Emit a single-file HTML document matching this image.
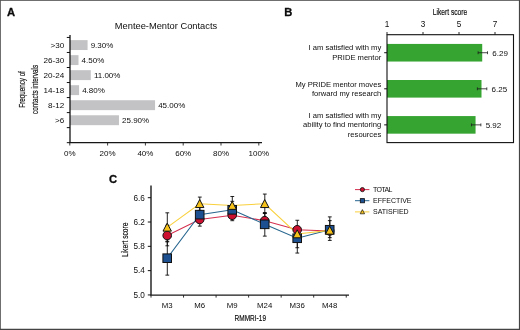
<!DOCTYPE html><html><head><meta charset="utf-8"><title>Figure</title><style>html,body{margin:0;padding:0;background:#fff;}body{width:520px;height:330px;overflow:hidden;font-family:"Liberation Sans",sans-serif;}svg{display:block;will-change:transform;}text{font-family:"Liberation Sans",sans-serif;fill:#0d0d0d;stroke:#0d0d0d;stroke-width:0;}</style></head><body>
<svg width="520" height="330" viewBox="0 0 520 330">
<rect x="0" y="0" width="520" height="330" fill="#fff"/>
<text x="7" y="16.4" font-size="11.2" font-weight="bold" fill="#000" style="stroke-width:0.3px">A</text>
<text x="166" y="29.2" font-size="9.3" text-anchor="middle">Mentee-Mentor Contacts</text>
<rect x="70.0" y="40.12" width="17.58" height="9.9" fill="#c3c3c5"/>
<text x="64.3" y="47.82" font-size="8.1" text-anchor="end">&gt;30</text>
<text x="90.68" y="47.77" font-size="8">9.30%</text>
<rect x="70.0" y="55.15" width="8.50" height="9.9" fill="#c3c3c5"/>
<text x="64.3" y="62.85" font-size="8.1" text-anchor="end">26-30</text>
<text x="81.60" y="62.80" font-size="8">4.50%</text>
<rect x="70.0" y="70.18" width="20.79" height="9.9" fill="#c3c3c5"/>
<text x="64.3" y="77.88" font-size="8.1" text-anchor="end">20-24</text>
<text x="93.89" y="77.83" font-size="8">11.00%</text>
<rect x="70.0" y="85.20" width="9.07" height="9.9" fill="#c3c3c5"/>
<text x="64.3" y="92.90" font-size="8.1" text-anchor="end">14-18</text>
<text x="82.17" y="92.85" font-size="8">4.80%</text>
<rect x="70.0" y="100.23" width="85.05" height="9.9" fill="#c3c3c5"/>
<text x="64.3" y="107.93" font-size="8.1" text-anchor="end">8-12</text>
<text x="158.15" y="107.88" font-size="8">45.00%</text>
<rect x="70.0" y="115.27" width="48.95" height="9.9" fill="#c3c3c5"/>
<text x="64.3" y="122.96" font-size="8.1" text-anchor="end">&gt;6</text>
<text x="122.05" y="122.91" font-size="8">25.90%</text>
<path d="M70.0 35 V142.7 H262" fill="none" stroke="#161616" stroke-width="1.3"/>
<path d="M66.8 37.45 H70.0" stroke="#111" stroke-width="1"/>
<path d="M66.8 52.48 H70.0" stroke="#111" stroke-width="1"/>
<path d="M66.8 67.51 H70.0" stroke="#111" stroke-width="1"/>
<path d="M66.8 82.54 H70.0" stroke="#111" stroke-width="1"/>
<path d="M66.8 97.57 H70.0" stroke="#111" stroke-width="1"/>
<path d="M66.8 112.60 H70.0" stroke="#111" stroke-width="1"/>
<path d="M66.8 127.63 H70.0" stroke="#111" stroke-width="1"/>
<path d="M66.8 142.66 H70.0" stroke="#111" stroke-width="1"/>
<path d="M69.80 142.5 V145.5" stroke="#161616" stroke-width="0.85"/>
<text x="69.80" y="156.2" font-size="8" text-anchor="middle">0%</text>
<path d="M107.60 142.5 V145.5" stroke="#161616" stroke-width="0.85"/>
<text x="107.60" y="156.2" font-size="8" text-anchor="middle">20%</text>
<path d="M145.40 142.5 V145.5" stroke="#161616" stroke-width="0.85"/>
<text x="145.40" y="156.2" font-size="8" text-anchor="middle">40%</text>
<path d="M183.20 142.5 V145.5" stroke="#161616" stroke-width="0.85"/>
<text x="183.20" y="156.2" font-size="8" text-anchor="middle">60%</text>
<path d="M221.00 142.5 V145.5" stroke="#161616" stroke-width="0.85"/>
<text x="221.00" y="156.2" font-size="8" text-anchor="middle">80%</text>
<path d="M258.80 142.5 V145.5" stroke="#161616" stroke-width="0.85"/>
<text x="258.80" y="156.2" font-size="8" text-anchor="middle">100%</text>
<g transform="translate(25.4,89.4) rotate(-90) scale(0.66,1)"><text x="0" y="0" font-size="9.5" style="stroke-width:0.18px" text-anchor="middle">Frequency of</text></g>
<g transform="translate(37.9,89.4) rotate(-90) scale(0.67,1)"><text x="0" y="0" font-size="9.5" style="stroke-width:0.18px" text-anchor="middle">contacts intervals</text></g>
<text x="284.3" y="16.4" font-size="11.2" font-weight="bold" fill="#000" style="stroke-width:0.3px">B</text>
<g transform="translate(450,15) scale(0.705,1)"><text x="0" y="0" font-size="9.5" style="stroke-width:0.18px" text-anchor="middle">Likert score</text></g>
<path d="M387.00 32 V34.7" stroke="#111" stroke-width="0.9"/>
<text x="387.00" y="27.2" font-size="8.2" text-anchor="middle">1</text>
<path d="M423.00 32 V34.7" stroke="#111" stroke-width="0.9"/>
<text x="423.00" y="27.2" font-size="8.2" text-anchor="middle">3</text>
<path d="M459.00 32 V34.7" stroke="#111" stroke-width="0.9"/>
<text x="459.00" y="27.2" font-size="8.2" text-anchor="middle">5</text>
<path d="M495.00 32 V34.7" stroke="#111" stroke-width="0.9"/>
<text x="495.00" y="27.2" font-size="8.2" text-anchor="middle">7</text>
<rect x="387.0" y="43.93" width="95.22" height="17.6" fill="#35a431"/>
<path d="M384.2 52.73 H387.0" stroke="#111" stroke-width="1"/>
<path d="M478.12 52.73 H487.52 M478.12 51.28 V54.18 M487.52 51.28 V54.18" stroke="#1c1c1c" stroke-width="0.8" fill="none"/>
<text x="492.32" y="56.13" font-size="8">6.29</text>
<text x="381.2" y="50.43" font-size="7.6" text-anchor="end">I am satisfied with my</text>
<text x="381.2" y="60.23" font-size="7.6" text-anchor="end">PRIDE mentor</text>
<rect x="387.0" y="80.00" width="94.50" height="17.6" fill="#35a431"/>
<path d="M384.2 88.80 H387.0" stroke="#111" stroke-width="1"/>
<path d="M477.40 88.80 H486.80 M477.40 87.35 V90.25 M486.80 87.35 V90.25" stroke="#1c1c1c" stroke-width="0.8" fill="none"/>
<text x="491.60" y="92.20" font-size="8">6.25</text>
<text x="381.2" y="86.50" font-size="7.6" text-anchor="end">My PRIDE mentor moves</text>
<text x="381.2" y="96.30" font-size="7.6" text-anchor="end">forward my research</text>
<rect x="387.0" y="116.07" width="88.56" height="17.6" fill="#35a431"/>
<path d="M384.2 124.87 H387.0" stroke="#111" stroke-width="1"/>
<path d="M471.46 124.87 H480.86 M471.46 123.42 V126.32 M480.86 123.42 V126.32" stroke="#1c1c1c" stroke-width="0.8" fill="none"/>
<text x="485.66" y="128.27" font-size="8">5.92</text>
<text x="381.2" y="117.67" font-size="7.6" text-anchor="end">I am satisfied with my</text>
<text x="381.2" y="127.47" font-size="7.6" text-anchor="end">ability to find mentoring</text>
<text x="381.2" y="137.27" font-size="7.6" text-anchor="end">resources</text>
<rect x="387.0" y="34.7" width="126.50" height="107.90" fill="none" stroke="#111" stroke-width="1.1"/>
<text x="109" y="183.4" font-size="11.2" font-weight="bold" fill="#000" style="stroke-width:0.3px">C</text>
<polyline points="167.20,235.51 199.70,219.48 232.20,215.25 264.70,220.69 297.20,229.76 329.70,230.98" fill="none" stroke="#d42f4f" stroke-width="1.05"/>
<polyline points="167.20,258.20 199.70,214.64 232.20,209.80 264.70,224.32 297.20,238.24 329.70,229.76" fill="none" stroke="#27668f" stroke-width="1.05"/>
<polyline points="167.20,227.34 199.70,203.75 232.20,205.56 264.70,203.75 297.20,234.00 329.70,230.37" fill="none" stroke="#f9d03c" stroke-width="1.05"/>
<path d="M167.30 225.23 V245.80 M165.40 225.23 h3.8 M165.40 245.80 h3.8" stroke="#0a0a0a" stroke-width="0.9" fill="none"/>
<path d="M199.80 212.82 V226.13 M197.90 212.82 h3.8 M197.90 226.13 h3.8" stroke="#0a0a0a" stroke-width="0.9" fill="none"/>
<path d="M232.30 209.80 V220.69 M230.40 209.80 h3.8 M230.40 220.69 h3.8" stroke="#0a0a0a" stroke-width="0.9" fill="none"/>
<path d="M264.80 213.43 V227.95 M262.90 213.43 h3.8 M262.90 227.95 h3.8" stroke="#0a0a0a" stroke-width="0.9" fill="none"/>
<path d="M297.30 226.74 V232.79 M295.40 226.74 h3.8 M295.40 232.79 h3.8" stroke="#0a0a0a" stroke-width="0.9" fill="none"/>
<path d="M329.80 227.95 V234.00 M327.90 227.95 h3.8 M327.90 234.00 h3.8" stroke="#0a0a0a" stroke-width="0.9" fill="none"/>
<path d="M167.30 241.26 V275.14 M165.40 241.26 h3.8 M165.40 275.14 h3.8" stroke="#0a0a0a" stroke-width="0.9" fill="none"/>
<path d="M199.80 206.77 V222.50 M197.90 206.77 h3.8 M197.90 222.50 h3.8" stroke="#0a0a0a" stroke-width="0.9" fill="none"/>
<path d="M232.30 201.33 V218.27 M230.40 201.33 h3.8 M230.40 218.27 h3.8" stroke="#0a0a0a" stroke-width="0.9" fill="none"/>
<path d="M264.80 212.52 V236.12 M262.90 212.52 h3.8 M262.90 236.12 h3.8" stroke="#0a0a0a" stroke-width="0.9" fill="none"/>
<path d="M297.30 227.95 V253.06 M295.40 227.95 h3.8 M295.40 253.06 h3.8" stroke="#0a0a0a" stroke-width="0.9" fill="none"/>
<path d="M329.80 220.63 V237.63 M327.90 220.63 h3.8 M327.90 237.63 h3.8" stroke="#0a0a0a" stroke-width="0.9" fill="none"/>
<path d="M167.30 212.82 V241.87 M165.40 212.82 h3.8 M165.40 241.87 h3.8" stroke="#0a0a0a" stroke-width="0.9" fill="none"/>
<path d="M199.80 197.09 V210.41 M197.90 197.09 h3.8 M197.90 210.41 h3.8" stroke="#0a0a0a" stroke-width="0.9" fill="none"/>
<path d="M232.30 196.49 V214.64 M230.40 196.49 h3.8 M230.40 214.64 h3.8" stroke="#0a0a0a" stroke-width="0.9" fill="none"/>
<path d="M264.80 194.07 V213.43 M262.90 194.07 h3.8 M262.90 213.43 h3.8" stroke="#0a0a0a" stroke-width="0.9" fill="none"/>
<path d="M297.30 220.27 V247.73 M295.40 220.27 h3.8 M295.40 247.73 h3.8" stroke="#0a0a0a" stroke-width="0.9" fill="none"/>
<path d="M329.80 216.88 V240.41 M327.90 216.88 h3.8 M327.90 240.41 h3.8" stroke="#0a0a0a" stroke-width="0.9" fill="none"/>
<circle cx="167.20" cy="235.51" r="4.3" fill="#cb1030" stroke="#111" stroke-width="1"/>
<circle cx="199.70" cy="219.48" r="4.3" fill="#cb1030" stroke="#111" stroke-width="1"/>
<circle cx="232.20" cy="215.25" r="4.3" fill="#cb1030" stroke="#111" stroke-width="1"/>
<circle cx="264.70" cy="220.69" r="4.3" fill="#cb1030" stroke="#111" stroke-width="1"/>
<circle cx="297.20" cy="229.76" r="4.3" fill="#cb1030" stroke="#111" stroke-width="1"/>
<circle cx="329.70" cy="230.98" r="4.3" fill="#cb1030" stroke="#111" stroke-width="1"/>
<rect x="162.90" y="253.90" width="8.6" height="8.6" fill="#1c5090" stroke="#111" stroke-width="1"/>
<rect x="195.40" y="210.34" width="8.6" height="8.6" fill="#1c5090" stroke="#111" stroke-width="1"/>
<rect x="227.90" y="205.50" width="8.6" height="8.6" fill="#1c5090" stroke="#111" stroke-width="1"/>
<rect x="260.40" y="220.02" width="8.6" height="8.6" fill="#1c5090" stroke="#111" stroke-width="1"/>
<rect x="292.90" y="233.94" width="8.6" height="8.6" fill="#1c5090" stroke="#111" stroke-width="1"/>
<rect x="325.40" y="225.46" width="8.6" height="8.6" fill="#1c5090" stroke="#111" stroke-width="1"/>
<path d="M167.20 223.14 L171.40 231.14 H163.00 Z" fill="#f6c21a" stroke="#111" stroke-width="1" stroke-linejoin="miter"/>
<path d="M199.70 199.55 L203.90 207.55 H195.50 Z" fill="#f6c21a" stroke="#111" stroke-width="1" stroke-linejoin="miter"/>
<path d="M232.20 201.37 L236.40 209.37 H228.00 Z" fill="#f6c21a" stroke="#111" stroke-width="1" stroke-linejoin="miter"/>
<path d="M264.70 199.55 L268.90 207.55 H260.50 Z" fill="#f6c21a" stroke="#111" stroke-width="1" stroke-linejoin="miter"/>
<path d="M297.20 229.80 L301.40 237.80 H293.00 Z" fill="#f6c21a" stroke="#111" stroke-width="1" stroke-linejoin="miter"/>
<path d="M329.70 226.17 L333.90 234.17 H325.50 Z" fill="#f6c21a" stroke="#111" stroke-width="1" stroke-linejoin="miter"/>
<path d="M151.0 185.5 V295.1 H349" fill="none" stroke="#1a1a1a" stroke-width="1.4"/>
<path d="M147.8 294.95 H151.0" stroke="#111" stroke-width="1"/>
<text x="144.9" y="297.75" font-size="8.2" text-anchor="end">5.0</text>
<path d="M147.8 270.64 H151.0" stroke="#111" stroke-width="1"/>
<text x="144.9" y="273.44" font-size="8.2" text-anchor="end">5.4</text>
<path d="M147.8 246.33 H151.0" stroke="#111" stroke-width="1"/>
<text x="144.9" y="249.13" font-size="8.2" text-anchor="end">5.8</text>
<path d="M147.8 222.01 H151.0" stroke="#111" stroke-width="1"/>
<text x="144.9" y="224.81" font-size="8.2" text-anchor="end">6.2</text>
<path d="M147.8 197.70 H151.0" stroke="#111" stroke-width="1"/>
<text x="144.9" y="200.50" font-size="8.2" text-anchor="end">6.6</text>
<path d="M151.00 295.1 V297.6" stroke="#1a1a1a" stroke-width="0.9"/>
<path d="M183.54 295.1 V297.6" stroke="#1a1a1a" stroke-width="0.9"/>
<path d="M216.08 295.1 V297.6" stroke="#1a1a1a" stroke-width="0.9"/>
<path d="M248.62 295.1 V297.6" stroke="#1a1a1a" stroke-width="0.9"/>
<path d="M281.16 295.1 V297.6" stroke="#1a1a1a" stroke-width="0.9"/>
<path d="M313.70 295.1 V297.6" stroke="#1a1a1a" stroke-width="0.9"/>
<path d="M346.24 295.1 V297.6" stroke="#1a1a1a" stroke-width="0.9"/>
<text x="167.20" y="307.8" font-size="7.8" text-anchor="middle">M3</text>
<text x="199.70" y="307.8" font-size="7.8" text-anchor="middle">M6</text>
<text x="232.20" y="307.8" font-size="7.8" text-anchor="middle">M9</text>
<text x="264.70" y="307.8" font-size="7.8" text-anchor="middle">M24</text>
<text x="297.20" y="307.8" font-size="7.8" text-anchor="middle">M36</text>
<text x="329.70" y="307.8" font-size="7.8" text-anchor="middle">M48</text>
<g transform="translate(250.3,320.5) scale(0.685,1)"><text x="0" y="0" font-size="9.5" style="stroke-width:0.18px" text-anchor="middle">RMMRI-19</text></g>
<g transform="translate(128.3,239.8) rotate(-90) scale(0.705,1)"><text x="0" y="0" font-size="9.5" style="stroke-width:0.18px" text-anchor="middle">Likert score</text></g>
<path d="M355 189.6 H369.4" stroke="#d42f4f" stroke-width="1"/>
<circle cx="362.4" cy="189.6" r="2.1" fill="#cb1030" stroke="#111" stroke-width="0.8"/>
<text x="373" y="191.90" font-size="7" textLength="19.3" lengthAdjust="spacing">TOTAL</text>
<path d="M355 200.7 H369.4" stroke="#27668f" stroke-width="1"/>
<rect x="360.3" y="198.6" width="4.2" height="4.2" fill="#1c5090" stroke="#111" stroke-width="0.8"/>
<text x="373" y="203.00" font-size="7">EFFECTIVE</text>
<path d="M355 211.9 H369.4" stroke="#f9d03c" stroke-width="1"/>
<path d="M362.4 209.6 L364.6 213.8 H360.2 Z" fill="#f6c21a" stroke="#111" stroke-width="0.7"/>
<text x="373" y="214.20" font-size="7">SATISFIED</text>
<path d="M0 0.45 H520" stroke="#555" stroke-width="0.9"/>
<path d="M0.45 0 V330" stroke="#555" stroke-width="0.9"/>
<path d="M0 329.35 H520" stroke="#444" stroke-width="1.3"/>
<path d="M519.45 0 V330" stroke="#444" stroke-width="1.1"/>
</svg></body></html>
